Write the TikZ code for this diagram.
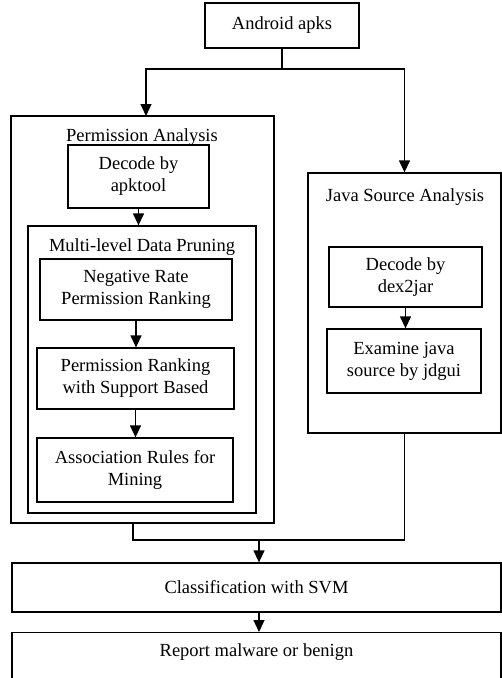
\documentclass[tikz,border=0pt]{standalone}
\usepackage{fontspec}
\setmainfont{Liberation Serif}
\usetikzlibrary{arrows.meta}
\begin{document}
\begin{tikzpicture}[x=1pt,y=-1pt,
    box/.style={draw,line width=1.3pt,inner sep=0pt,align=center},
    title/.style={inner sep=0pt,align=center},
    arr/.style={-{Triangle[length=12pt,width=11pt]}}]
      \useasboundingbox (0,0) rectangle (502,678);
      \fontsize{18.5}{22}\selectfont
      \node[box,minimum width=154,minimum height=45] (apks) at (282,25.5) {Android apks};
      % permission side
      \node[box,minimum width=263,minimum height=407] (perm) at (142.5,319.5) {};
      \node[title] (permt) at (142,137) {Permission Analysis};
      \node[box,minimum width=141,minimum height=63] (decapk) at (138.5,176.5) {Decode by\\apktool};
      \node[box,minimum width=228,minimum height=287] (mdp) at (142,369.5) {};
      \node[title] (mdpt) at (142,247) {Multi-level Data Pruning};
      \node[box,minimum width=192,minimum height=61] (neg) at (136,289.5) {Negative Rate\\Permission Ranking};
      \node[box,minimum width=197,minimum height=61] (supp) at (135.5,378.5) {Permission Ranking\\with Support Based};
      \node[box,minimum width=196,minimum height=64] (assoc) at (135,470) {Association Rules for\\Mining};
      % java side
      \node[box,minimum width=193,minimum height=260] (java) at (404.5,303) {};
      \node[title] (javat) at (405,197) {Java Source Analysis};
      \node[box,minimum width=153,minimum height=60] (dex) at (405.5,277) {Decode by\\dex2jar};
      \node[box,minimum width=154,minimum height=64] (jd) at (404,361) {Examine java\\source by jdgui};
      % bottom
      \node[box,minimum width=489,minimum height=49] (svm) at (256.5,587.5) {Classification with SVM};
      \node[box,minimum width=489,minimum height=70,anchor=north] (report) at (256.5,632) {};
      \node[title] (reportt) at (256.5,652) {Report malware or benign};
      \coordinate (split) at (282,69);
      \coordinate (merge) at (259,540);
      \begin{scope}[line width=1.3pt]
        \draw (apks) -- (split);
        \draw[arr] (split) -| (146,116);
        \draw[arr] (split) -| (java);
        \draw[arr] (decapk.south) -- (decapk.south |- mdp.north);
        \draw[arr] (neg.south) -- (neg.south |- supp.north);
        \draw[arr] (supp.south) -- (supp.south |- assoc.north);
        \draw[arr] (dex.south) -- (dex.south |- jd.north);
        \draw ([xshift=-9.5]perm.south) |- (merge) -| (java.south);
        \draw[arr] (merge) -- (merge |- svm.north);
        \draw[arr] (svm.south -| merge) -- (report.north -| merge);
      \end{scope}
    \end{tikzpicture}
\end{document}
